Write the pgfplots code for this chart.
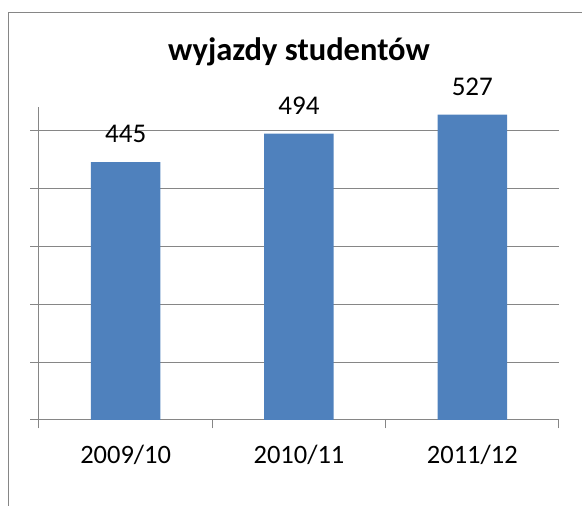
\documentclass[border=0pt]{standalone}
\usepackage{fontspec}
\setmainfont{Carlito}
\usepackage{pgfplots}
\pgfplotsset{compat=1.18}
\definecolor{barblue}{RGB}{79,129,189}
\definecolor{gridgray}{RGB}{134,134,134}
\begin{document}
\begin{tikzpicture}[x=1pt,y=1pt]
\path[use as bounding box] (-39,-86) rectangle (543,420);
\clip (-39,-86) rectangle (543,420);
\draw[gridgray, line width=1pt] (-30.5,-120) -- (-30.5,407.5) -- (600,407.5);
\begin{axis}[
  at={(0,0)}, anchor=south west,
  scale only axis, width=520pt, height=313pt,
  xmin=-0.5, xmax=2.5, ymin=0, ymax=540,
  axis x line*=bottom, axis y line*=left,
  axis line style={gridgray, line width=1pt, -},
  xtick={-0.5,0.5,1.5,2.5}, xticklabels={},
  extra x ticks={0,1,2},
  extra x tick labels={2009/10,2010/11,2011/12},
  extra x tick style={major tick length=0pt},
  ytick={0,100,...,500}, yticklabels={},
  tick align=outside, major tick length=8.5pt,
  tick style={gridgray, line width=1pt},
  ymajorgrids, grid style={gridgray, line width=1pt},
  /pgf/number format/assume math mode=true,
  xticklabel style={font=\fontsize{26.5}{30}\selectfont, anchor=base, yshift=-44pt, text=black},
  every axis title/.style={at={(0.5,1)}, anchor=base, yshift=47pt, font=\bfseries\fontsize{32.5}{38}\selectfont},
  title={wyjazdy studentów},
  ybar, bar width=69.5pt,
  nodes near coords,
  nodes near coords style={font=\fontsize{27}{30}\selectfont, anchor=south, inner sep=0pt, yshift=19pt, text=black},
]
\addplot[fill=barblue, draw=none] coordinates {(0,445) (1,494) (2,527)};
\end{axis}
\end{tikzpicture}
\end{document}
